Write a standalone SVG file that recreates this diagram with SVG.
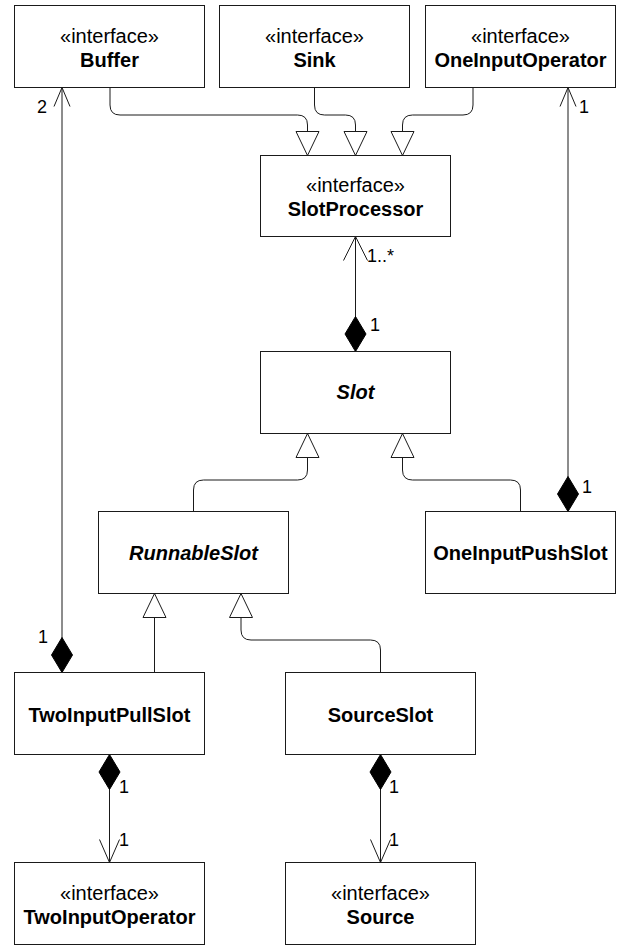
<svg xmlns="http://www.w3.org/2000/svg" width="619" height="945" viewBox="0 0 619 945">
  <style>
    .box { fill: #fff; stroke: #1a1a1a; stroke-width: 1; }
    .txt { font-family: "Liberation Sans", Helvetica, Arial, sans-serif; font-size: 20px; fill: #000; text-anchor: middle; }
    .name { font-weight: bold; }
    .abstract { font-weight: bold; font-style: italic; }
    .edge { fill: none; stroke: #1a1a1a; stroke-width: 1; }
    .mult { font-family: "Liberation Sans", Helvetica, Arial, sans-serif; font-size: 18px; fill: #000; }
  </style>
  <defs>
    <!-- hollow triangle: generalization -->
    <marker id="gen" markerUnits="userSpaceOnUse" viewBox="-1 -1 26 25" markerWidth="26" markerHeight="25" refX="24" refY="11.5" orient="auto" overflow="visible">
      <path d="M0,0 L24,11.5 L0,23 Z" fill="#fff" stroke="#1a1a1a" stroke-width="1"/>
    </marker>
    <!-- filled diamond: composition -->
    <marker id="comp" markerUnits="userSpaceOnUse" viewBox="-1 -1 37 23" markerWidth="37" markerHeight="23" refX="35" refY="10.5" orient="auto-start-reverse" overflow="visible">
      <path d="M0,10.5 L17.5,0 L35,10.5 L17.5,21 Z" fill="#000" stroke="#000" stroke-width="1"/>
    </marker>
    <!-- open arrowheads: navigability -->
    <marker id="navL" markerUnits="userSpaceOnUse" viewBox="-1 -1 26 26" markerWidth="26" markerHeight="26" refX="24" refY="12" orient="auto" overflow="visible">
      <path d="M0,0 L24,12 L0,24" fill="none" stroke="#1a1a1a" stroke-width="1"/>
    </marker>
    <marker id="navM" markerUnits="userSpaceOnUse" viewBox="-1 -1 25 22" markerWidth="25" markerHeight="22" refX="23" refY="10" orient="auto" overflow="visible">
      <path d="M0,0 L23,10 L0,20" fill="none" stroke="#1a1a1a" stroke-width="1"/>
    </marker>
    <marker id="navS" markerUnits="userSpaceOnUse" viewBox="-1 -1 21 18" markerWidth="21" markerHeight="18" refX="19" refY="8" orient="auto" overflow="visible">
      <path d="M0,0 L19,8 L0,16" fill="none" stroke="#1a1a1a" stroke-width="1"/>
    </marker>
  </defs>

  <g id="connectors">
    <!-- interfaces realized by SlotProcessor -->
    <path class="edge" d="M110,87.5 V105 Q110,115 120,115 H297.5 Q307.5,115 307.5,125 V155.5" marker-end="url(#gen)"/>
    <path class="edge" d="M314.5,87.5 V105 Q314.5,115 324.5,115 H345.5 Q355.5,115 355.5,125 V155.5" marker-end="url(#gen)"/>
    <path class="edge" d="M473,87.5 V105 Q473,115 463,115 H412.5 Q402.5,115 402.5,125 V155.5" marker-end="url(#gen)"/>

    <!-- Slot subclasses -->
    <path class="edge" d="M193.5,511.5 V490 Q193.5,480 203.5,480 H297.5 Q307.5,480 307.5,470 V433.5" marker-end="url(#gen)"/>
    <path class="edge" d="M520.5,511.5 V490 Q520.5,480 510.5,480 H412.5 Q402.5,480 402.5,470 V433.5" marker-end="url(#gen)"/>

    <!-- RunnableSlot subclasses -->
    <path class="edge" d="M154.5,672.5 V593.5" marker-end="url(#gen)"/>
    <path class="edge" d="M380.5,672.5 V650 Q380.5,640 370.5,640 H251 Q241,640 241,630 V593.5" marker-end="url(#gen)"/>

    <!-- compositions -->
    <path class="edge" d="M355.5,351.5 V236.5" marker-start="url(#comp)" marker-end="url(#navL)"/>
    <path class="edge" d="M62,672.5 V87.5" marker-start="url(#comp)" marker-end="url(#navS)"/>
    <path class="edge" d="M568,511.5 V87.5" marker-start="url(#comp)" marker-end="url(#navS)"/>
    <path class="edge" d="M109.5,754.5 V862.5" marker-start="url(#comp)" marker-end="url(#navM)"/>
    <path class="edge" d="M380.5,754.5 V862.5" marker-start="url(#comp)" marker-end="url(#navM)"/>

    <!-- multiplicities -->
    <text class="mult" x="367" y="262">1..*</text>
    <text class="mult" x="370" y="331">1</text>
    <text class="mult" x="37" y="113">2</text>
    <text class="mult" x="38" y="643">1</text>
    <text class="mult" x="579" y="113">1</text>
    <text class="mult" x="582" y="493">1</text>
    <text class="mult" x="119" y="793">1</text>
    <text class="mult" x="119" y="846">1</text>
    <text class="mult" x="389" y="793">1</text>
    <text class="mult" x="389" y="846">1</text>
  </g>

  <g id="Buffer">
    <rect class="box" x="14.5" y="5.5" width="190" height="82"/>
    <text class="txt" x="109.5" y="42.5">«interface»</text>
    <text class="txt name" x="109.5" y="66.5">Buffer</text>
  </g>
  <g id="Sink">
    <rect class="box" x="219.5" y="5.5" width="190" height="82"/>
    <text class="txt" x="314.5" y="42.5">«interface»</text>
    <text class="txt name" x="314.5" y="66.5">Sink</text>
  </g>
  <g id="OneInputOperator">
    <rect class="box" x="425.5" y="5.5" width="190" height="82"/>
    <text class="txt" x="520.5" y="42.5">«interface»</text>
    <text class="txt name" x="520.5" y="66.5">OneInputOperator</text>
  </g>
  <g id="SlotProcessor">
    <rect class="box" x="260.5" y="155.5" width="190" height="81"/>
    <text class="txt" x="355.5" y="192">«interface»</text>
    <text class="txt name" x="355.5" y="216">SlotProcessor</text>
  </g>
  <g id="Slot">
    <rect class="box" x="260.5" y="351.5" width="190" height="82"/>
    <text class="txt abstract" x="355.5" y="399">Slot</text>
  </g>
  <g id="RunnableSlot">
    <rect class="box" x="98.5" y="511.5" width="190" height="82"/>
    <text class="txt abstract" x="193.5" y="559.5">RunnableSlot</text>
  </g>
  <g id="OneInputPushSlot">
    <rect class="box" x="425.5" y="511.5" width="190" height="82"/>
    <text class="txt name" x="520.5" y="559.5">OneInputPushSlot</text>
  </g>
  <g id="TwoInputPullSlot">
    <rect class="box" x="14.5" y="672.5" width="190" height="82"/>
    <text class="txt name" x="109.5" y="721.5">TwoInputPullSlot</text>
  </g>
  <g id="SourceSlot">
    <rect class="box" x="285.5" y="672.5" width="190" height="82"/>
    <text class="txt name" x="380.5" y="721.5">SourceSlot</text>
  </g>
  <g id="TwoInputOperator">
    <rect class="box" x="14.5" y="862.5" width="190" height="82"/>
    <text class="txt" x="109.5" y="899.5">«interface»</text>
    <text class="txt name" x="109.5" y="923.5">TwoInputOperator</text>
  </g>
  <g id="Source">
    <rect class="box" x="285.5" y="862.5" width="190" height="82"/>
    <text class="txt" x="380.5" y="899.5">«interface»</text>
    <text class="txt name" x="380.5" y="923.5">Source</text>
  </g>
</svg>
